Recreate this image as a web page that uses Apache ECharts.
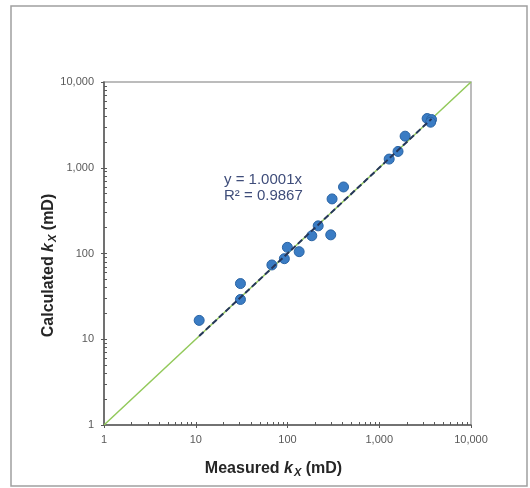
<!DOCTYPE html>
<html>
<head>
<meta charset="utf-8">
<style>
  html, body {margin: 0; padding: 0; background: #fff;}
  #chart {width: 530px; height: 488px;}
</style>
<script src="https://cdn.jsdelivr.net/npm/echarts@6/dist/echarts.min.js"></script>
</head>
<body>
<div id="chart"></div>
<script>
	// measured vs calculated kx (mD)
	var measured   = [10.9, 30.7, 30.7, 67.6, 92.4, 99.7, 134, 184, 216, 296, 306, 408, 1283, 1602, 1914, 3326, 3714, 3630];
	var calculated = [16.6, 44.6, 29.1, 73.5, 87, 118, 105, 161, 210, 165, 433, 597, 1262, 1550, 2335, 3750, 3650, 3397];
	var slope = 1.0001;
	var equationText = ['y = 1.0001x', 'R² = 0.9867'];
	var axisRange = [1, 10000];
	var minorTicks = [2, 3, 4, 5, 6, 7, 8, 9, 20, 30, 40, 50, 60, 70, 80, 90,
		200, 300, 400, 500, 600, 700, 800, 900, 2000, 3000, 4000, 5000, 6000, 7000, 8000, 9000];

	var points = [];
	for (var i = 0; i < measured.length; i++) {
		points.push([measured[i], calculated[i]]);
	}
	var xLo = Math.min.apply(null, measured);
	var xHi = Math.max.apply(null, measured);
	var trend = [[xLo, slope * xLo], [xHi, slope * xHi]];
	var identity = [[axisRange[0], axisRange[0]], [axisRange[1], axisRange[1]]];

	var axisColor = '#595959';
	var nameRich = {
		k: {fontFamily: 'Liberation Sans', fontSize: 16, fontWeight: 'bold', fontStyle: 'italic', color: '#262626'},
		s: {fontFamily: 'Liberation Sans', fontSize: 11, fontWeight: 'bold', fontStyle: 'italic', color: '#262626', padding: [8, 0, 0, 1]}
	};

	function fmt(v) {
		return Math.round(v).toLocaleString('en-US');
	}

	function mainAxis(name, isX) {
		return {
			type: 'log',
			logBase: 10,
			min: axisRange[0],
			max: axisRange[1],
			name: name,
			nameLocation: 'middle',
			nameGap: isX ? 34 : 46,
			nameMoveOverlap: false,
			nameTextStyle: {
				fontFamily: 'Liberation Sans', fontSize: 16, fontWeight: 'bold', color: '#262626',
				padding: [0, isX ? 28 : 24, 0, 0],
				rich: nameRich
			},
			axisLine: {show: true, lineStyle: {color: axisColor, width: 1.5}},
			axisTick: {show: true, inside: false, length: 3, lineStyle: {color: axisColor, width: 1}},
			axisLabel: {margin: isX ? 9 : 10, formatter: fmt, fontFamily: 'Liberation Sans', fontSize: 11, color: '#595959'},
			splitLine: {show: false},
			minorTick: {show: false}
		};
	}

	function tickAxis(isX) {
		return {
			type: 'log',
			logBase: 10,
			min: axisRange[0],
			max: axisRange[1],
			position: isX ? 'bottom' : 'left',
			offset: 0,
			axisLine: {show: false},
			axisLabel: {show: false},
			splitLine: {show: false},
			axisTick: {show: true, inside: true, length: 3, customValues: minorTicks.concat([10, 100, 1000]),
				lineStyle: {color: axisColor, width: 1}}
		};
	}

	var chart = echarts.init(document.getElementById('chart'));
	var option = {
		animation: false,
		backgroundColor: '#fff',
		grid: {left: 104, right: 59, top: 82, bottom: 63, show: true, borderColor: '#a6a6a6', borderWidth: 1.5},
		xAxis: [mainAxis('Measured {k|k}{s|X} (mD)', true), tickAxis(true)],
		yAxis: [mainAxis('Calculated {k|k}{s|X} (mD)', false), tickAxis(false)],
		graphic: [{
			type: 'rect',
			shape: {x: 11, y: 6, width: 516, height: 480},
			style: {fill: 'none', stroke: '#a0a0a0', lineWidth: 1.5},
			silent: true
		}, {
			type: 'text',
			left: 224,
			top: 172,
			style: {
				text: equationText.join('\n'),
				font: '15px "Liberation Sans"',
				lineHeight: 16,
				fill: '#3f4d7a'
			}
		}],
		series: [{
			type: 'line',
			data: identity,
			symbol: 'none',
			lineStyle: {color: '#92c95a', width: 1.5},
			z: 1
		}, {
			type: 'scatter',
			data: points,
			symbolSize: 10,
			itemStyle: {color: '#3a7cc4', borderColor: '#2a64a4', borderWidth: 1, opacity: 1},
			z: 2
		}, {
			type: 'line',
			data: trend,
			symbol: 'none',
			lineStyle: {color: '#26365a', width: 2, type: [6, 3]},
			z: 3
		}]
	};
	chart.setOption(option);
</script>
</body>
</html>
